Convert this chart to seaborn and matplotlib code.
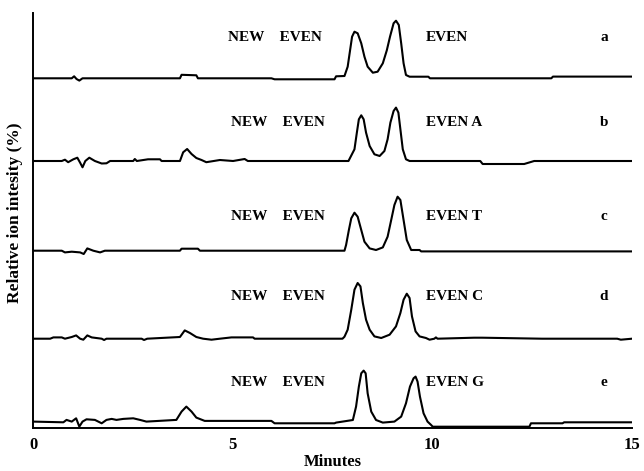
#!/usr/bin/env python3
"""Stacked chromatograms (traces a-e) of NEW EVEN and its variants."""
import matplotlib
matplotlib.use("Agg")
import matplotlib.pyplot as plt
import pandas as pd
import seaborn as sns

# Trace letters and the right-hand peak labels.
trace_ids = ["a", "b", "c", "d", "e"]
left_label = "NEW    EVEN"
right_labels = ["EVEN", "EVEN A", "EVEN T", "EVEN C", "EVEN G"]
x_ticks = [0, 5, 10, 15]

# Retention time (min) and relative signal.
time_a = [0.0, 0.97, 1.03, 1.09, 1.16, 1.24, 3.68, 3.72, 4.09, 4.13, 5.97, 6.05,
          7.55, 7.59, 7.8, 7.88, 7.94, 7.99, 8.05, 8.13, 8.22, 8.3, 8.38, 8.51,
          8.63, 8.76, 8.86, 8.94, 9.03, 9.09, 9.16, 9.22, 9.28, 9.34, 9.43, 9.9,
          9.94, 12.98, 13.02, 15.0]
sig_a = [0.0, 0.0, 2.0, -0.7, -2.3, 0.0, 0.0, 3.5, 3.0, 0.0, 0.0, -1.0,
         -1.0, 2.0, 2.3, 11.6, 28.0, 41.6, 46.6, 45.0, 35.0, 21.6, 11.6, 5.6,
         6.6, 15.0, 28.0, 41.6, 55.0, 57.6, 53.3, 35.0, 15.0, 3.3, 1.6, 1.6,
         0.0, 0.0, 1.7, 1.7]

time_b = [0.0, 0.72, 0.8, 0.88, 1.01, 1.11, 1.18, 1.24, 1.31, 1.41, 1.55, 1.72,
          1.84, 1.93, 2.51, 2.55, 2.6, 2.88, 3.18, 3.22, 3.68, 3.76, 3.86, 3.97,
          4.09, 4.22, 4.34, 4.68, 5.01, 5.3, 5.38, 7.9, 8.05, 8.11, 8.16, 8.22,
          8.28, 8.34, 8.43, 8.55, 8.68, 8.8, 8.88, 8.95, 9.03, 9.09, 9.15, 9.2,
          9.26, 9.34, 9.43, 11.2, 11.26, 12.3, 12.55, 15.0]
sig_b = [0.0, 0.0, 1.3, -1.2, 1.7, 3.3, -1.7, -6.3, 0.0, 3.3, 0.0, -2.5,
         -2.3, 0.0, 0.0, 2.0, 0.0, 1.7, 1.7, 0.0, 0.0, 8.7, 12.0, 7.0,
         3.0, 1.0, -1.2, 1.0, 0.0, 2.0, 0.0, 0.0, 11.7, 28.4, 41.7, 45.7,
         41.7, 28.4, 15.0, 6.7, 5.0, 10.0, 21.7, 38.4, 50.0, 53.4, 48.4, 31.7,
         11.7, 1.7, 0.0, 0.0, -3.0, -3.0, 0.0, 0.0]

time_c = [0.0, 0.72, 0.8, 0.97, 1.18, 1.27, 1.36, 1.51, 1.68, 1.8, 3.68, 3.72,
          4.13, 4.18, 7.8, 7.84, 7.91, 7.97, 8.05, 8.13, 8.22, 8.3, 8.43, 8.59,
          8.76, 8.88, 8.97, 9.05, 9.13, 9.2, 9.28, 9.36, 9.47, 9.68, 9.72, 15.0]
sig_c = [0.0, 0.0, -1.7, -1.0, -1.7, -3.3, 2.3, 0.0, -1.7, 0.0, 0.0, 2.0,
         2.0, 0.0, 0.0, 5.7, 20.7, 32.4, 38.0, 34.0, 20.7, 9.0, 2.3, 0.7,
         3.3, 14.0, 30.7, 45.7, 54.0, 50.7, 30.7, 10.7, 0.7, 0.7, -0.7, -0.7]

time_d = [0.0, 0.43, 0.51, 0.72, 0.8, 0.97, 1.08, 1.18, 1.26, 1.36, 1.47, 1.72,
          1.78, 1.84, 2.72, 2.78, 2.86, 3.68, 3.8, 3.93, 4.09, 4.26, 4.47, 4.68,
          4.97, 5.51, 5.55, 7.75, 7.8, 7.88, 7.97, 8.05, 8.13, 8.2, 8.26, 8.34,
          8.43, 8.55, 8.72, 8.93, 9.09, 9.2, 9.28, 9.36, 9.43, 9.49, 9.58, 9.68,
          9.84, 9.93, 10.05, 10.09, 10.13, 11.05, 11.25, 12.75, 14.63, 14.72, 15.0]
sig_d = [0.0, 0.0, 1.3, 1.3, 0.0, 1.7, 3.3, 0.0, -1.0, 3.3, 1.3, 0.0,
         -1.3, 0.0, 0.0, -1.3, 0.0, 1.7, 8.3, 5.7, 1.7, 0.0, -1.0, 0.0,
         1.3, 1.3, 0.0, 0.0, 2.0, 9.0, 29.0, 49.0, 55.7, 52.3, 35.7, 19.0,
         9.0, 2.3, 0.7, 4.0, 12.3, 25.7, 39.0, 45.0, 40.7, 22.3, 7.3, 2.3,
         0.7, -1.0, 0.0, 1.3, 0.0, 1.0, 1.0, 0.0, 0.0, -1.0, 0.0]

time_e = [0.0, 0.76, 0.84, 0.97, 1.08, 1.16, 1.24, 1.34, 1.55, 1.72, 1.84, 1.97,
          2.09, 2.26, 2.51, 2.68, 2.84, 3.59, 3.72, 3.84, 3.97, 4.09, 4.3, 5.97,
          6.05, 7.55, 7.59, 8.01, 8.09, 8.16, 8.22, 8.28, 8.33, 8.38, 8.47, 8.59,
          8.76, 9.05, 9.22, 9.34, 9.44, 9.53, 9.58, 9.63, 9.69, 9.78, 9.88, 9.97,
          10.01, 12.43, 12.47, 13.26, 13.3, 15.0]
sig_e = [1.7, 1.0, 3.4, 1.7, 5.0, -3.3, 1.7, 4.0, 3.4, 0.0, 3.4, 4.4,
         3.4, 4.4, 5.0, 3.4, 1.7, 3.4, 11.7, 16.7, 11.7, 5.7, 2.4, 2.4,
         0.0, 0.0, 0.7, 3.3, 16.7, 36.7, 50.0, 52.7, 50.0, 30.0, 11.7, 3.3,
         0.7, 1.7, 6.7, 20.0, 36.7, 45.0, 46.7, 41.7, 26.7, 10.0, 1.7, -1.7,
         -3.4, -3.4, 0.0, 0.0, 1.0, 1.0]

times = [time_a, time_b, time_c, time_d, time_e]
signals = [sig_a, sig_b, sig_c, sig_d, sig_e]

# Vertical stacking of the traces (baseline of each trace).
offsets = [350.0, 267.3, 177.6, 89.6, 5.0]
label_dy = [40.6, 38.0, 33.7, 41.7, 40.3]

if __name__ == "__main__":
    sns.set_style("white")
    plt.rcParams["font.family"] = ["Liberation Serif", "DejaVu Serif"]
    plt.rcParams["font.weight"] = "bold"
    plt.rcParams["text.color"] = "black"
    plt.rcParams["axes.labelcolor"] = "black"

    frames = []
    for tid, t, s, off in zip(trace_ids, times, signals, offsets):
        frames.append(pd.DataFrame({
            "Minutes": t,
            "Signal": [v + off for v in s],
            "trace": tid,
        }))
    df = pd.concat(frames, ignore_index=True)

    fig = plt.figure(figsize=(6.44, 4.71), dpi=100)
    ax = fig.add_axes((33 / 644, 42.7 / 471, 599 / 644, 415.3 / 471))

    sns.lineplot(
        data=df, x="Minutes", y="Signal", hue="trace",
        palette=["black"] * len(trace_ids), estimator=None, sort=False,
        linewidth=1.5, legend=False, ax=ax,
    )

    ax.set_xlim(0, 15)
    ax.set_ylim(0, 415.3)
    ax.set_xticks(x_ticks)
    ax.set_xticklabels([str(v) for v in x_ticks], fontsize=12, fontweight="bold")
    ax.set_yticks([])
    ax.tick_params(axis="x", direction="out", length=3, width=1.1, pad=3,
                   colors="black", labelcolor="black")
    for side in ["top", "right"]:
        ax.spines[side].set_visible(False)
    for side in ["left", "bottom"]:
        ax.spines[side].set_color("black")
        ax.spines[side].set_linewidth(1.4)

    ax.set_xlabel("Minutes", fontsize=12, fontweight="bold", labelpad=1)
    ax.set_ylabel("Relative ion intesity (%)", fontsize=12.5, fontweight="bold")
    ax.yaxis.set_label_coords(-0.016, 0.518)

    for i, tid in enumerate(trace_ids):
        y = offsets[i] + label_dy[i]
        x_new = 4.875 if i == 0 else 4.95
        ax.text(x_new, y, left_label, fontsize=11, fontweight="bold", va="center", ha="left")
        ax.text(9.83, y, right_labels[i], fontsize=11, fontweight="bold", va="center", ha="left")
        ax.text(14.3, y, tid, fontsize=11, fontweight="bold", va="center", ha="center")

    fig.savefig("out.png", dpi=100)
